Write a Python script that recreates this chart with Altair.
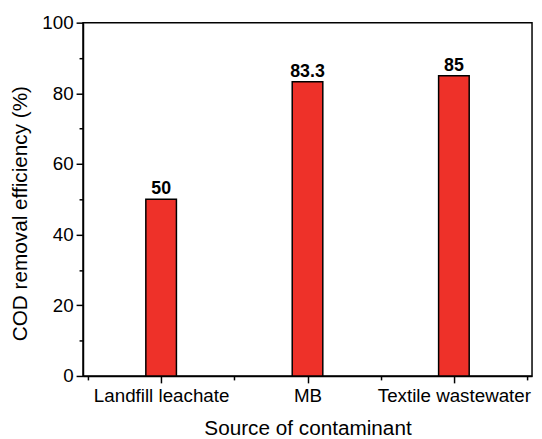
import altair as alt
import pandas as pd

categories = ["Landfill leachate", "MB", "Textile wastewater"]
positions = [1, 2, 3]
values = [50, 83.3, 85]
value_labels = ["50", "83.3", "85"]

df = pd.DataFrame({"cat": categories, "pos": positions, "val": values, "lab": value_labels})

label_expr = "datum.value == 1 ? 'Landfill leachate' : datum.value == 2 ? 'MB' : datum.value == 3 ? 'Textile wastewater' : ''"

FONT = "Liberation Sans"
xscale = alt.Scale(domain=[0.5, 3.5], nice=False, zero=False)
yscale = alt.Scale(domain=[0, 100], nice=False)

bars = alt.Chart(df).mark_bar(size=31, color="#EE3129", stroke="black", strokeWidth=1.5).encode(
    x=alt.X("pos:Q", scale=xscale, title="Source of contaminant",
            axis=alt.Axis(orient="bottom", values=[1, 2, 3], labelExpr=label_expr, grid=False, tickSize=7,
                          tickColor="black", tickWidth=1.5, domainColor="black", domainWidth=1.5,
                          labelFontSize=19, labelColor="black", labelPadding=4,
                          titleFontSize=21, titleFontWeight="normal", titleColor="black",
                          titlePadding=12, labelFont=FONT, titleFont=FONT)),
    y=alt.Y("val:Q", scale=yscale, title="COD removal efficiency (%)",
            axis=alt.Axis(orient="left", values=[0, 20, 40, 60, 80, 100], grid=False, tickSize=7,
                          tickColor="black", tickWidth=1.5, domainColor="black", domainWidth=1.5,
                          labelFontSize=19, labelColor="black", labelPadding=3,
                          titleFontSize=21, titleFontWeight="normal", titleColor="black",
                          titlePadding=12, titleY=193, labelFont=FONT, titleFont=FONT)),
)

text = alt.Chart(df).mark_text(fontSize=18, fontWeight="bold", baseline="alphabetic", dy=-5,
                               font=FONT, color="black").encode(
    x=alt.X("pos:Q", scale=xscale, axis=None),
    y=alt.Y("val:Q", scale=yscale, axis=None),
    text="lab:N",
)

minor_x = alt.Chart(pd.DataFrame({"pos": [1.5, 2.5, 3.5]})).mark_point(opacity=0).encode(
    x=alt.X("pos:Q", scale=xscale,
            axis=alt.Axis(orient="bottom", values=[0.5, 1.5, 2.5, 3.5], labels=False, title=None, grid=False,
                          tickSize=4, tickColor="black", tickWidth=1.5, domain=False)),
)

minor_y = alt.Chart(pd.DataFrame({"v": [10, 30, 50, 70, 90]})).mark_point(opacity=0).encode(
    y=alt.Y("v:Q", scale=yscale,
            axis=alt.Axis(orient="left", values=[10, 30, 50, 70, 90], labels=False, title=None, grid=False,
                          tickSize=4, tickColor="black", tickWidth=1.5, domain=False)),
)

chart = alt.layer(bars, text, minor_x, minor_y).resolve_axis(
    x="independent", y="independent"
).properties(
    width=455, height=358,
    autosize=alt.AutoSizeParams(type="none"),
    padding={"left": 76, "top": 12, "right": 2, "bottom": 60},
).configure_view(stroke="black", strokeWidth=1.5)

chart.save("out.html", embed_options={"renderer": "svg", "actions": False})
